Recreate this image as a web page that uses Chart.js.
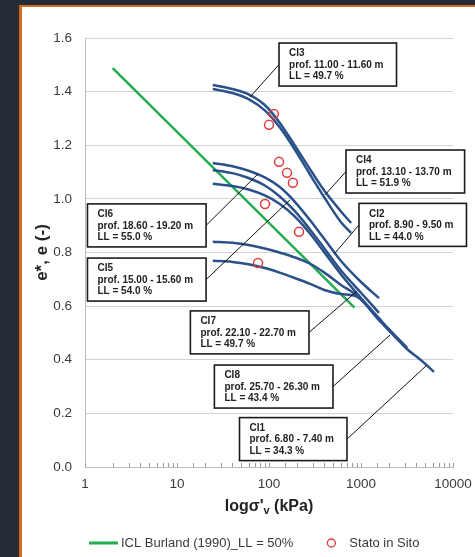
<!DOCTYPE html>
<html>
<head>
<meta charset="utf-8">
<title>e - log sigma'v</title>
<script src="https://cdn.jsdelivr.net/npm/chart.js@4.4.1/dist/chart.umd.min.js"></script>
<style>
  html, body { margin: 0; padding: 0; }
  body { width: 475px; height: 557px; overflow: hidden; background: #242b34; position: relative; }
  #panel { position: absolute; left: 19px; top: 5px; width: 500px; height: 600px;
           border-left: 3px solid #d5691f; border-top: 2px solid #d5691f; background: #fff; }
  #chart { position: absolute; left: 0; top: 0; }
</style>
</head>
<body>
<div id="panel"></div>
<canvas id="chart" width="475" height="557"></canvas>
<script>
// Curves (sigma'v in kPa, e)
const sigmaTop = [24.5, 40, 60, 90, 130, 190, 280, 400, 600, 780];
const eCI3 = [1.425, 1.41, 1.39, 1.35, 1.285, 1.20, 1.11, 1.03, 0.955, 0.91];
const eCI4 = [1.41, 1.395, 1.372, 1.33, 1.268, 1.185, 1.09, 1.005, 0.915, 0.873];

const sigmaMid = [24.5, 40, 60, 90, 130, 190, 280, 400, 600, 1000, 1570];
const eCI6 = [1.134, 1.122, 1.105, 1.08, 1.045, 0.99, 0.92, 0.85, 0.77, 0.69, 0.63];
const eCI5 = [1.108, 1.096, 1.078, 1.05, 1.01, 0.955, 0.885, 0.815, 0.735, 0.65, 0.575];

const sigmaCI2 = [24.5, 40, 60, 90, 130, 190, 280, 400, 600, 1000, 1570, 2000, 3160];
const eCI2 = [1.056, 1.048, 1.035, 1.013, 0.982, 0.935, 0.87, 0.80, 0.72, 0.63, 0.555, 0.515, 0.445];

const sigmaCI1 = [24.5, 40, 60, 90, 130, 190, 280, 400, 600, 900, 1570, 2000, 3160, 4500, 6200];
const eCI1 = [0.84, 0.836, 0.828, 0.815, 0.80, 0.782, 0.758, 0.725, 0.68, 0.64, 0.55, 0.512, 0.44, 0.398, 0.355];

const sigmaCI7 = [24.5, 40, 60, 90, 130, 190, 280, 400, 600, 900, 1570, 2000, 3160];
const eCI7 = [0.769, 0.765, 0.756, 0.742, 0.725, 0.705, 0.683, 0.66, 0.645, 0.635, 0.548, 0.51, 0.442];

// ICL Burland (1990)
const sigmaICL = [2, 850];
const eICL = [1.488, 0.594];

// Stato in sito
const sigmaSito = [113, 100, 128.5, 157, 182, 90.5, 212, 76];
const eSito = [1.317, 1.276, 1.138, 1.097, 1.06, 0.981, 0.877, 0.761];

// Sample labels
const labelNames = ['CI3', 'CI4', 'CI2', 'CI6', 'CI5', 'CI7', 'CI8', 'CI1'];
const labelDepths = ['prof. 11.00 - 11.60 m', 'prof. 13.10 - 13.70 m', 'prof. 8.90 - 9.50 m',
  'prof. 18.60 - 19.20 m', 'prof. 15.00 - 15.60 m', 'prof. 22.10 - 22.70 m',
  'prof. 25.70 - 26.30 m', 'prof. 6.80 - 7.40 m'];
const labelLL = ['LL = 49.7 %', 'LL = 51.9 %', 'LL = 44.0 %', 'LL = 55.0 %',
  'LL = 54.0 %', 'LL = 49.7 %', 'LL = 43.4 %', 'LL = 34.3 %'];
// where each box's leader leaves it, and where the leader ends (data units)
const labelSide = ['left', 'left', 'left', 'right', 'right', 'right', 'right', 'right'];
const labelSigma = [128.5, 687, 951, 20.7, 20.7, 272, 496, 704];
const labelE = [1.501, 1.102, 0.903, 0.901, 0.699, 0.502, 0.300, 0.104];
const targetSigma = [62.2, 406, 522, 75.9, 169, 905, 2066, 5090];
const targetE = [1.380, 1.015, 0.798, 1.093, 0.996, 0.656, 0.492, 0.377];

const xTickLabels = [1, 10, 100, 1000, 10000];

const BLUE = '#2a5189';
const GREEN = '#22ad4f';
const RED = '#e0393e';
const TEXT = '#3a3a3a';

function toPoints(xs, ys) {
    return xs.map((x, i) => ({ x: x, y: ys[i] }));
}

function curve(label, xs, ys) {
    return {
        label: label,
        data: toPoints(xs, ys),
        showLine: true,
        borderColor: BLUE,
        borderWidth: 2.5,
        pointRadius: 0,
        cubicInterpolationMode: 'monotone',
        order: 2
    };
}

const datasets = [
    {
        label: 'Stato in Sito',
        data: toPoints(sigmaSito, eSito),
        showLine: false,
        pointStyle: 'circle',
        pointRadius: 4.5,
        borderWidth: 1.5,
        borderColor: RED,
        backgroundColor: 'rgba(0,0,0,0)',
        order: 1
    },
    curve('CI3', sigmaTop, eCI3),
    curve('CI4', sigmaTop, eCI4),
    curve('CI6', sigmaMid, eCI6),
    curve('CI5', sigmaMid, eCI5),
    curve('CI2', sigmaCI2, eCI2),
    curve('CI1', sigmaCI1, eCI1),
    curve('CI7', sigmaCI7, eCI7),
    {
        label: 'ICL Burland (1990)_LL = 50%',
        data: toPoints(sigmaICL, eICL),
        showLine: true,
        borderColor: GREEN,
        borderWidth: 2.5,
        pointRadius: 0,
        order: 3
    }
];

// minor ticks, label boxes, x title and legend
const overlay = {
    id: 'overlay',
    afterDatasetsDraw(chart) {
        const { ctx, chartArea, scales: { x, y } } = chart;
        ctx.save();

        // small inward ticks on the log axis
        ctx.strokeStyle = '#9a9a9a';
        ctx.lineWidth = 1;
        x.ticks.forEach(t => {
            const px = Math.round(x.getPixelForValue(t.value)) + 0.5;
            ctx.beginPath();
            ctx.moveTo(px, chartArea.bottom);
            ctx.lineTo(px, chartArea.bottom - 4);
            ctx.stroke();
        });

        // label boxes with leaders
        ctx.font = 'bold 10px Arial, "Liberation Sans", sans-serif';
        labelNames.forEach((name, i) => {
            const lines = [name, labelDepths[i], labelLL[i]];
            const w = Math.max(...lines.map(s => ctx.measureText(s).width)) + 23;
            const h = 43;
            const ex = x.getPixelForValue(labelSigma[i]);
            const ey = y.getPixelForValue(labelE[i]);
            const left = labelSide[i] === 'left' ? ex : ex - w;
            const top = ey - h / 2;

            ctx.strokeStyle = '#111';
            ctx.lineWidth = 1;
            ctx.beginPath();
            ctx.moveTo(ex, ey);
            ctx.lineTo(x.getPixelForValue(targetSigma[i]), y.getPixelForValue(targetE[i]));
            ctx.stroke();

            ctx.fillStyle = '#fff';
            ctx.fillRect(left, top, w, h);
            ctx.lineWidth = 1.6;
            ctx.strokeStyle = '#1c1c1c';
            ctx.strokeRect(left, top, w, h);

            ctx.fillStyle = '#222';
            ctx.textAlign = 'left';
            ctx.textBaseline = 'middle';
            lines.forEach((s, k) => ctx.fillText(s, left + 10, top + 10.5 + k * 11.5));
        });
        ctx.restore();
    },
    afterDraw(chart) {
        const { ctx, chartArea } = chart;
        ctx.save();
        ctx.fillStyle = '#222';
        ctx.textBaseline = 'middle';
        ctx.textAlign = 'left';

        // x title with subscript v
        const big = 'bold 16px Arial, "Liberation Sans", sans-serif';
        const small = 'bold 11px Arial, "Liberation Sans", sans-serif';
        const partA = 'logσ\'', partB = 'v', partC = ' (kPa)';
        ctx.font = big;
        const wA = ctx.measureText(partA).width, wC = ctx.measureText(partC).width;
        ctx.font = small;
        const wB = ctx.measureText(partB).width;
        const ty = chartArea.bottom + 40;
        let tx = (chartArea.left + chartArea.right) / 2 - (wA + wB + wC) / 2;
        ctx.font = big;
        ctx.fillText(partA, tx, ty);
        ctx.font = small;
        ctx.fillText(partB, tx + wA, ty + 4);
        ctx.font = big;
        ctx.fillText(partC, tx + wA + wB, ty);

        // legend
        const icl = chart.data.datasets[chart.data.datasets.length - 1];
        const sito = chart.data.datasets[0];
        const ly = chartArea.bottom + 76;
        const lx = chartArea.left + 4;
        ctx.font = '13px Arial, "Liberation Sans", sans-serif';
        ctx.fillStyle = TEXT;
        ctx.strokeStyle = icl.borderColor;
        ctx.lineWidth = 3;
        ctx.beginPath();
        ctx.moveTo(lx, ly);
        ctx.lineTo(lx + 29, ly);
        ctx.stroke();
        ctx.fillText(icl.label, lx + 32, ly);
        const cx = lx + 32 + ctx.measureText(icl.label).width + 38;
        ctx.strokeStyle = sito.borderColor;
        ctx.lineWidth = 1.3;
        ctx.beginPath();
        ctx.arc(cx, ly, 4, 0, Math.PI * 2);
        ctx.stroke();
        ctx.fillText(sito.label, cx + 18, ly);
        ctx.restore();
    }
};

const ctxChart = document.getElementById('chart').getContext('2d');
new Chart(ctxChart, {
    type: 'scatter',
    data: { datasets: datasets },
    options: {
        responsive: false,
        animation: false,
        layout: { padding: { left: 0, right: 22, top: 38, bottom: 0 } },
        plugins: {
            legend: { display: false },
            tooltip: { enabled: false }
        },
        scales: {
            x: {
                type: 'logarithmic',
                min: 1,
                max: 10000,
                afterFit: s => { s.height = 90; s.paddingLeft = 0; s.paddingRight = 0; },
                border: { display: true, color: '#bdbdbd', width: 1 },
                grid: { display: false, drawTicks: false },
                ticks: {
                    autoSkip: false,
                    maxRotation: 0,
                    padding: 9,
                    color: TEXT,
                    font: { family: 'Arial, "Liberation Sans", sans-serif', size: 13.5 },
                    callback: v => xTickLabels.includes(v) ? String(v) : ''
                }
            },
            y: {
                min: 0,
                max: 1.6,
                afterFit: s => { s.width = 85; },
                border: { display: true, color: '#bdbdbd', width: 1 },
                grid: { color: '#d2d2d2', drawTicks: false },
                ticks: {
                    stepSize: 0.2,
                    padding: 13,
                    color: TEXT,
                    font: { family: 'Arial, "Liberation Sans", sans-serif', size: 13.5 },
                    callback: v => v.toFixed(1)
                },
                title: {
                    display: true,
                    text: 'e*, e (-)',
                    color: '#222',
                    font: { family: 'Arial, "Liberation Sans", sans-serif', size: 17, weight: 'bold' },
                    padding: { top: 32, bottom: 0 }
                }
            }
        }
    },
    plugins: [overlay]
});
</script>
</body>
</html>
